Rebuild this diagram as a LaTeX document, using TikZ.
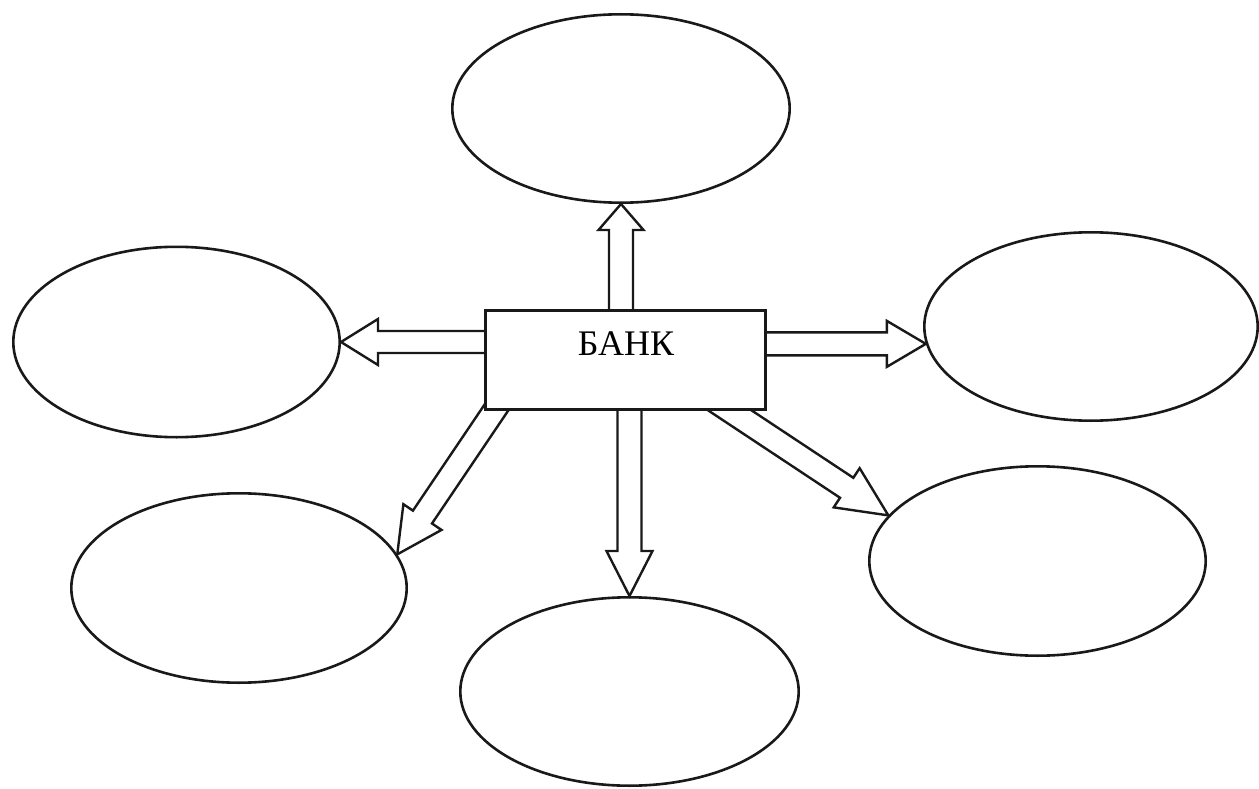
\documentclass[tikz,border=0pt]{standalone}
\usepackage{fontspec}
\setmainfont{Liberation Serif}
\usetikzlibrary{calc,shapes.geometric}
\pgfdeclarelayer{bg}
\pgfsetlayers{bg,main}
\tikzset{
  ell/.style={ellipse, draw=black!90, line width=2.6pt, inner sep=0pt},
  bankbox/.style={rectangle, draw=black!90, fill=white, line width=2.8pt, inner sep=0pt,
    minimum width=280.2pt, minimum height=99.2pt},
  arrowline/.style={draw=black!90, line width=2.4pt, line join=miter},
  banktext/.style={inner sep=0pt, font=\fontsize{36}{40}\selectfont}
}
\newcommand\hollowarrow[5]{%
  \path #1 coordinate (haS) #2 coordinate (haT);
  \coordinate (haH) at ($(haT)!#5!(haS)$);
  \draw[arrowline] ($(haS)!#3!90:(haT)$) -- ($(haH)!#3!-90:(haS)$) -- ($(haH)!#4!-90:(haS)$)
    -- (haT) -- ($(haH)!#4!90:(haS)$) -- ($(haH)!#3!90:(haS)$) -- ($(haS)!#3!-90:(haT)$);
}
\begin{document}
\begin{tikzpicture}[x=1pt,y=-1pt]
\useasboundingbox (0,0) rectangle (1259,789);
\node[ell, minimum width=337.4pt, minimum height=188.4pt] (eTop)   at (621,108.5) {};
\node[ell, minimum width=326.4pt, minimum height=190.4pt] (eLeft)  at (176.5,342) {};
\node[ell, minimum width=333.4pt, minimum height=188.4pt] (eRight) at (1091,326.5) {};
\node[ell, minimum width=335.4pt, minimum height=189.4pt] (eBL)    at (239,588) {};
\node[ell, minimum width=338.4pt, minimum height=188.4pt] (eBot)   at (629.5,691.5) {};
\node[ell, minimum width=336.4pt, minimum height=189.4pt] (eBR)    at (1037.5,561) {};
\node[bankbox] (bank) at (625.5,360) {};
\node[banktext] (bankText) at (626,344) {БАНК};
\begin{pgfonlayer}{bg}
  \hollowarrow{(eTop.south |- bank.center)}{(eTop.south)}{12pt}{22.5pt}{26pt}
  \hollowarrow{(bank.center |- eLeft.east)}{(eLeft.east)}{11pt}{23pt}{37pt}
  \hollowarrow{(bank.center |- eRight.186)}{(eRight.186)}{11.5pt}{23pt}{39pt}
  \hollowarrow{(eBot.north |- bank.center)}{(eBot.north)}{12pt}{23pt}{45pt}
  \hollowarrow{($(bank.south west)+(31,-31)$)}{(eBL.12)}{11.5pt}{23pt}{45pt}
  \hollowarrow{($(bank.south west)+(200,-31)$)}{(eBR.163)}{12pt}{23.5pt}{50pt}
\end{pgfonlayer}
\end{tikzpicture}
\end{document}
